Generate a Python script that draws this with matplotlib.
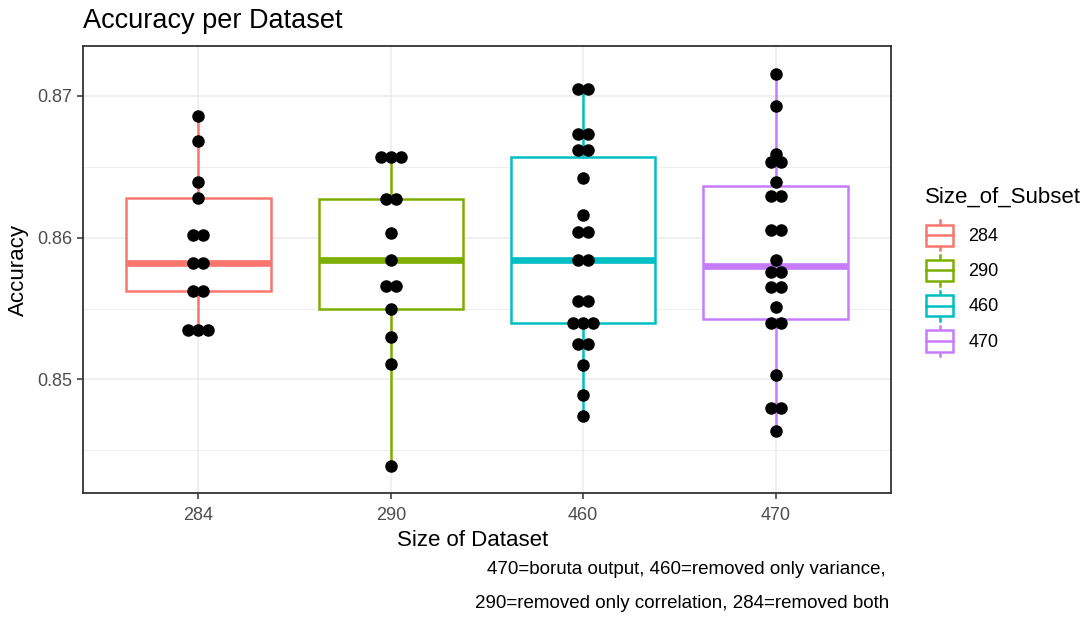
import numpy as np
import matplotlib
matplotlib.use("Agg")
import matplotlib.pyplot as plt
from matplotlib.legend_handler import HandlerBase
from matplotlib.patches import Rectangle
from matplotlib.lines import Line2D

plt.rcParams['font.family'] = ['Liberation Sans', 'DejaVu Sans']

# Data
subsets = ['284', '290', '460', '470']
colors = ['#F8766D', '#7CAE00', '#00BFC4', '#C77CFF']

acc_284 = [0.8686, 0.8668, 0.8639, 0.8628, 0.8602, 0.8602, 0.8582, 0.8582,
           0.8562, 0.8562, 0.8535, 0.8535, 0.8535]
acc_290 = [0.8657, 0.8657, 0.8657, 0.8627, 0.8627, 0.8603, 0.8584, 0.8566,
           0.8566, 0.8550, 0.8530, 0.8511, 0.8439]
acc_460 = [0.8705, 0.8705, 0.8673, 0.8673, 0.8662, 0.8662, 0.8642, 0.8616,
           0.8604, 0.8604, 0.8584, 0.8584, 0.8555, 0.8555, 0.8540, 0.8540,
           0.8540, 0.8525, 0.8525, 0.8510, 0.8489, 0.8474]
acc_470 = [0.8715, 0.8693, 0.8659, 0.8653, 0.8653, 0.8639, 0.8629, 0.8629,
           0.8605, 0.8605, 0.8584, 0.8576, 0.8576, 0.8565, 0.8565, 0.8551,
           0.8540, 0.8540, 0.8503, 0.8480, 0.8480, 0.8464]
data = [acc_284, acc_290, acc_460, acc_470]

caption_1 = "470=boruta output, 460=removed only variance,"
caption_2 = "290=removed only correlation, 284=removed both"


# legend key that looks like a small boxplot
class BoxHandler(HandlerBase):
    def create_artists(self, legend, orig_handle, xdescent, ydescent,
                       width, height, fontsize, trans):
        c = orig_handle.get_edgecolor()
        x0, y0 = -xdescent, -ydescent
        bx = Rectangle((x0 + 0.05 * width, y0 + 0.15 * height), 0.9 * width, 0.7 * height,
                       facecolor='white', edgecolor=c, lw=1.8, transform=trans)
        med = Line2D([x0 + 0.05 * width, x0 + 0.95 * width], [y0 + 0.5 * height] * 2,
                     color=c, lw=1.8, transform=trans)
        w1 = Line2D([x0 + 0.5 * width] * 2, [y0, y0 + 0.15 * height], color=c,
                    lw=1.8, transform=trans)
        w2 = Line2D([x0 + 0.5 * width] * 2, [y0 + 0.85 * height, y0 + height], color=c,
                    lw=1.8, transform=trans)
        return [w1, w2, bx, med]


W, H = 1088, 624
fig = plt.figure(figsize=(W / 100, H / 100), dpi=100)
pl, pr, pt, pb = 83, 891, 46, 493
ax = fig.add_axes([pl / W, (H - pb) / H, (pr - pl) / W, (pb - pt) / H])

pos = np.arange(1, len(subsets) + 1)
for i, (vals, col) in enumerate(zip(data, colors)):
    ax.boxplot(vals, positions=[pos[i]], widths=0.75, whis=(0, 100), showfliers=False,
               patch_artist=True, zorder=2,
               boxprops=dict(facecolor='white', edgecolor=col, lw=1.8),
               whiskerprops=dict(color=col, lw=1.8),
               capprops=dict(lw=0),
               medianprops=dict(color=col, lw=4.8, solid_capstyle='butt'))

# dots stacked sideways when values coincide
dot_step = 0.052
for i, vals in enumerate(data):
    uniq, counts = np.unique(vals, return_counts=True)
    for v, n in zip(uniq, counts):
        offs = (np.arange(n) - (n - 1) / 2) * dot_step
        ax.plot(pos[i] + offs, [v] * n, 'o', color='black', ms=8, zorder=3)

ax.set_xlim(0.4, 4.6)
ax.set_ylim(0.8420, 0.8735)
ax.set_xticks(pos)
ax.set_xticklabels(subsets)
ax.set_yticks([0.85, 0.86, 0.87])
ax.set_yticklabels(['0.85', '0.86', '0.87'])
ax.set_yticks([0.845, 0.855, 0.865], minor=True)
ax.grid(True, which='major', color='#EBEBEB', lw=1.1, zorder=0)
ax.grid(True, which='minor', axis='y', color='#EBEBEB', lw=0.6, zorder=0)
ax.set_axisbelow(True)
ax.tick_params(axis='both', which='major', length=4, width=1.1, color='#333333',
               labelcolor='#4D4D4D', labelsize=13)
ax.tick_params(axis='x', which='major', pad=6)
ax.tick_params(axis='y', which='major', pad=4)
ax.tick_params(axis='y', which='minor', length=0)
for s in ax.spines.values():
    s.set_color('#333333')
    s.set_linewidth(1.3)

ax.set_xlabel('Size of Dataset', fontsize=16, color='black')
ax.xaxis.set_label_coords((473 - pl) / (pr - pl), -(530 - pb) / (pb - pt), transform=ax.transAxes)
ax.set_ylabel('Accuracy', fontsize=16, color='black')
ax.yaxis.set_label_coords(-(pl - 29) / (pr - pl), 0.5, transform=ax.transAxes)

fig.text(pl / W, 1 - 21 / H, 'Accuracy per Dataset', fontsize=19.5, ha='left', va='center')

# legend title drawn on its own so the gap to the keys can be set
fig.text(925 / W, 1 - 197 / H, 'Size_of_Subset', fontsize=16, ha='left', va='center')
handles = [Rectangle((0, 0), 1, 1, edgecolor=c, facecolor='white') for c in colors]
leg = fig.legend(handles, subsets, loc='upper left',
                 bbox_to_anchor=(925 / W, 1 - 220 / H), frameon=False, fontsize=13,
                 handler_map={Rectangle: BoxHandler()}, borderpad=0, borderaxespad=0,
                 handlelength=1.65, handleheight=2.2, labelspacing=0.28,
                 handletextpad=0.75)

fig.text(886 / W, 1 - 570 / H, caption_1, fontsize=13.5, ha='right', va='center')
fig.text(889 / W, 1 - 604 / H, caption_2, fontsize=13.5, ha='right', va='center')

fig.savefig('out.png', dpi=100)
